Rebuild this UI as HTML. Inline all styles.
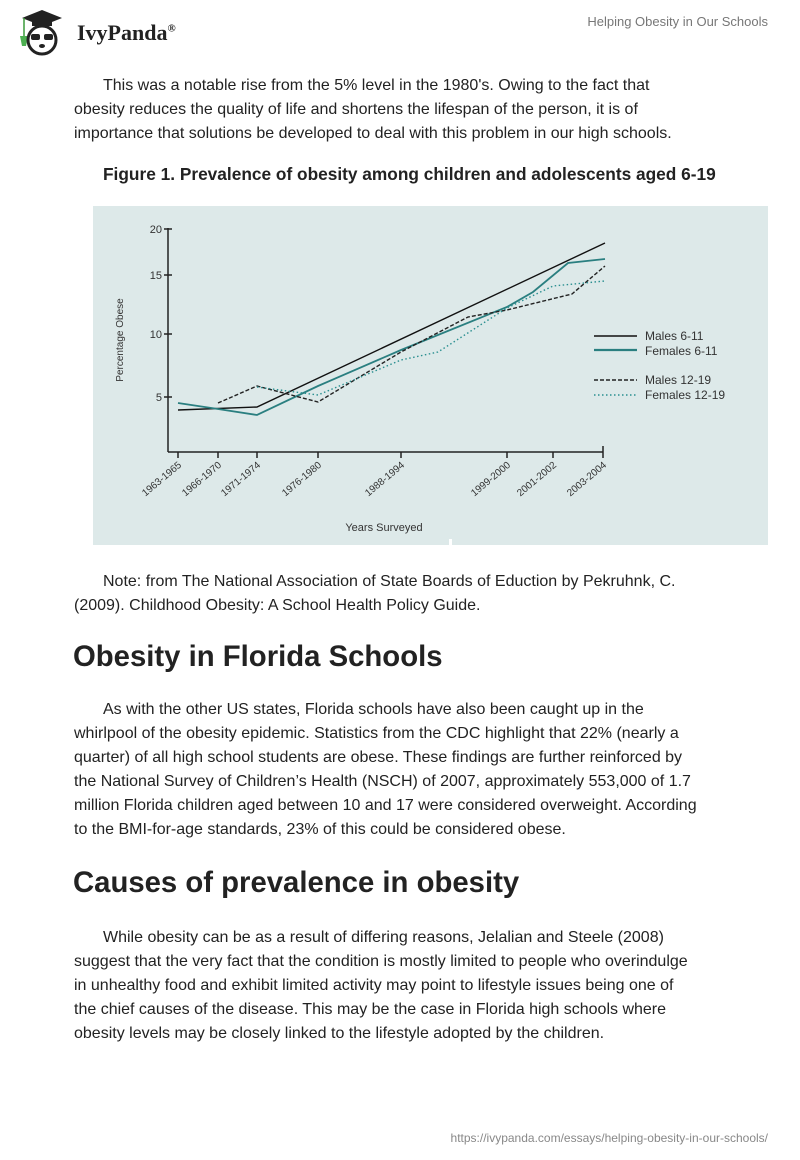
<!DOCTYPE html>
<html><head><meta charset="utf-8"><style>
body{margin:0;width:800px;height:1160px;background:#fff;position:relative;font-family:"Liberation Sans",Arial,sans-serif;color:#222;overflow:hidden}
.l{position:absolute;white-space:nowrap;font-size:16px;line-height:24px;left:74px}
.h{position:absolute;left:73px;font-size:29.3px;font-weight:bold;line-height:36px;white-space:nowrap;color:#222}
</style></head><body>
<svg style="position:absolute;left:14px;top:8px" width="56" height="48" viewBox="0 0 56 48">
<polygon points="8,10 28,2 48,10 28,18" fill="#222"/>
<rect x="18" y="12" width="20" height="6" fill="#222"/>
<line x1="10" y1="10" x2="10" y2="28" stroke="#3a9a3a" stroke-width="1.5"/>
<path d="M6,28 L14,28 L12,38 L8,38Z" fill="#4caf50"/>
<circle cx="28" cy="32" r="14" fill="#fff" stroke="#222" stroke-width="3"/>
<rect x="17" y="26" width="9" height="6" rx="2" fill="#222"/><rect x="30" y="26" width="9" height="6" rx="2" fill="#222"/>
<ellipse cx="28" cy="38" rx="3" ry="2" fill="#222"/>
</svg>
<div style="position:absolute;left:77px;top:20px;font-family:'Liberation Serif',serif;font-weight:bold;font-size:22px;color:#222">IvyPanda<sup style="font-size:11px">®</sup></div>
<div style="position:absolute;right:32px;top:14px;font-size:13px;color:#777">Helping Obesity in Our Schools</div>

<div class="l" style="top:74px;left:103px">This was a notable rise from the 5% level in the 1980's. Owing to the fact that</div>
<div class="l" style="top:98px">obesity reduces the quality of life and shortens the lifespan of the person, it is of</div>
<div class="l" style="top:122px">importance that solutions be developed to deal with this problem in our high schools.</div>
<div style="position:absolute;left:103px;top:164px;font-size:17.3px;font-weight:bold;color:#222;white-space:nowrap">Figure 1. Prevalence of obesity among children and adolescents aged 6-19</div>

<svg style="position:absolute;left:0;top:0" width="800" height="560">
<rect x="93" y="206" width="675" height="339" fill="#dde9e9"/>
<g stroke="#222" stroke-width="1.5" fill="none">
<line x1="168" y1="228" x2="168" y2="452"/>
<line x1="168" y1="452" x2="603" y2="452"/>
<line x1="164" y1="229" x2="172" y2="229"/><line x1="164" y1="275" x2="172" y2="275"/><line x1="164" y1="334" x2="172" y2="334"/><line x1="164" y1="397" x2="172" y2="397"/>
<line x1="178" y1="452" x2="178" y2="458"/><line x1="218" y1="452" x2="218" y2="458"/><line x1="257" y1="452" x2="257" y2="458"/><line x1="318" y1="452" x2="318" y2="458"/><line x1="401" y1="452" x2="401" y2="458"/><line x1="507" y1="452" x2="507" y2="458"/><line x1="553" y1="452" x2="553" y2="458"/><line x1="603" y1="446" x2="603" y2="458"/>
</g>
<g font-size="11" fill="#333" text-anchor="end">
<text x="162" y="233">20</text><text x="162" y="279">15</text><text x="162" y="338">10</text><text x="162" y="401">5</text>
</g>
<g font-size="10" fill="#333" text-anchor="end">
<text transform="translate(182,466) rotate(-40)">1963-1965</text>
<text transform="translate(222,466) rotate(-40)">1966-1970</text>
<text transform="translate(261,466) rotate(-40)">1971-1974</text>
<text transform="translate(322,466) rotate(-40)">1976-1980</text>
<text transform="translate(405,466) rotate(-40)">1988-1994</text>
<text transform="translate(511,466) rotate(-40)">1999-2000</text>
<text transform="translate(557,466) rotate(-40)">2001-2002</text>
<text transform="translate(607,466) rotate(-40)">2003-2004</text>
</g>
<text x="384" y="531" font-size="11" fill="#333" text-anchor="middle">Years Surveyed</text>
<text transform="translate(123,340) rotate(-90)" font-size="10" fill="#333" text-anchor="middle">Percentage Obese</text>
<g fill="none" stroke-width="1.4">
<polyline stroke="#111" points="178,410 257,407 605,243"/>
<polyline stroke="#2a7f80" stroke-width="1.8" points="178,403 218,409 257,415 318,386 401,350 507,307 533,292 568,263 605,259"/>
<polyline stroke="#222" stroke-dasharray="4,2" points="218,403 257,386 318,402 401,352 468,317 507,310 572,294 605,266"/>
<polyline stroke="#2a8f90" stroke-dasharray="1.5,2.5" points="257,387 318,395 401,360 438,352 507,308 553,286 605,281"/>
<line x1="594" y1="336" x2="637" y2="336" stroke="#111"/>
<line x1="594" y1="350" x2="637" y2="350" stroke="#2a7f80" stroke-width="2.2"/>
<line x1="594" y1="380" x2="637" y2="380" stroke="#222" stroke-dasharray="4,2"/>
<line x1="594" y1="395" x2="637" y2="395" stroke="#2a8f90" stroke-dasharray="1.5,2.5"/>
</g>
<g font-size="12" fill="#333">
<text x="645" y="340">Males 6-11</text><text x="645" y="355">Females 6-11</text>
<text x="645" y="384">Males 12-19</text><text x="645" y="399">Females 12-19</text>
</g>
<rect x="449" y="539" width="3" height="6" fill="#fff"/>
</svg>

<div class="l" style="top:570px;left:103px">Note: from The National Association of State Boards of Eduction by Pekruhnk, C.</div>
<div class="l" style="top:594px">(2009). Childhood Obesity: A School Health Policy Guide.</div>
<div class="h" style="top:639px">Obesity in Florida Schools</div>
<div class="l" style="top:698px;left:103px">As with the other US states, Florida schools have also been caught up in the</div>
<div class="l" style="top:722px">whirlpool of the obesity epidemic. Statistics from the CDC highlight that 22% (nearly a</div>
<div class="l" style="top:746px">quarter) of all high school students are obese. These findings are further reinforced by</div>
<div class="l" style="top:770px">the National Survey of Children’s Health (NSCH) of 2007, approximately 553,000 of 1.7</div>
<div class="l" style="top:794px">million Florida children aged between 10 and 17 were considered overweight. According</div>
<div class="l" style="top:818px">to the BMI-for-age standards, 23% of this could be considered obese.</div>
<div class="h" style="top:865px">Causes of prevalence in obesity</div>
<div class="l" style="top:926px;left:103px">While obesity can be as a result of differing reasons, Jelalian and Steele (2008)</div>
<div class="l" style="top:950px">suggest that the very fact that the condition is mostly limited to people who overindulge</div>
<div class="l" style="top:974px">in unhealthy food and exhibit limited activity may point to lifestyle issues being one of</div>
<div class="l" style="top:998px">the chief causes of the disease. This may be the case in Florida high schools where</div>
<div class="l" style="top:1022px">obesity levels may be closely linked to the lifestyle adopted by the children.</div>
<div style="position:absolute;right:32px;top:1131px;font-size:12px;color:#888">https://ivypanda.com/essays/helping-obesity-in-our-schools/</div>
</body></html>
